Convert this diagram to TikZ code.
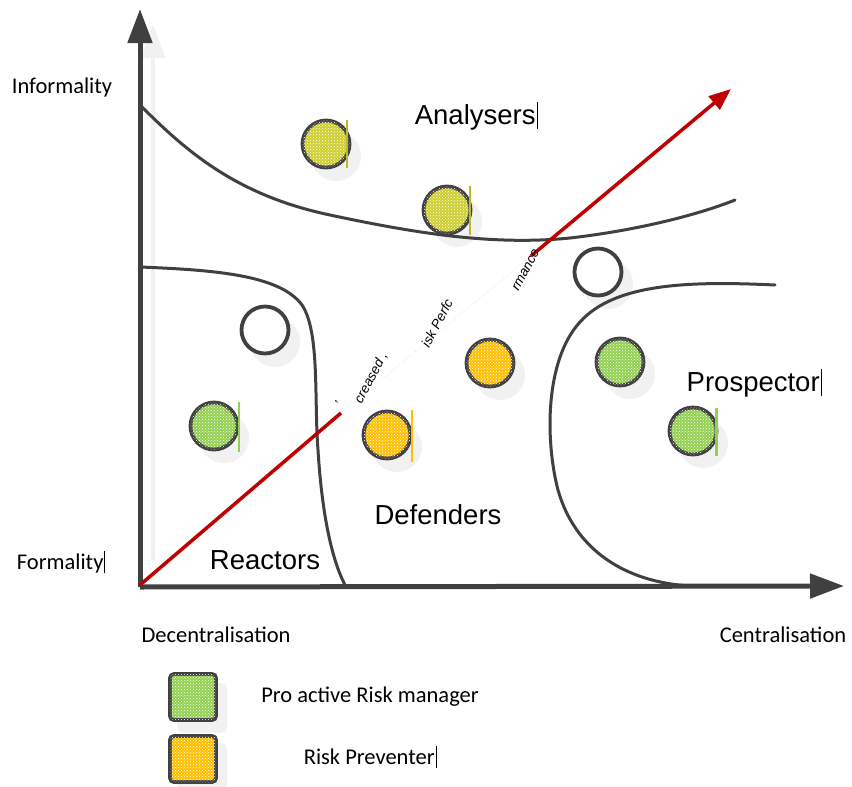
\documentclass[tikz,border=0pt]{standalone}
\usepackage{fontspec}
\setmainfont{Liberation Sans}
\newfontfamily\labelfont{Carlito}
\usetikzlibrary{arrows.meta,patterns}
\definecolor{dk}{RGB}{64,64,64}
\definecolor{redline}{RGB}{192,0,0}
\definecolor{greenf}{RGB}{146,208,80}
\definecolor{olivef}{RGB}{206,206,48}
\definecolor{orangef}{RGB}{255,190,0}
\definecolor{shade}{RGB}{241,241,241}
\begin{document}
\begin{tikzpicture}[x=1pt,y=-1pt,
  boundary/.style={draw=dk,line width=3pt,line cap=round},
  axis/.style={draw=dk,line width=5pt,-{Triangle[length=34pt,width=24pt]}},
  axisshadow/.style={draw=shade,line width=4pt,-{Triangle[length=34pt,width=24pt]}},
  disc/.style={circle,draw=dk,line width=3.8pt,minimum size=47pt,inner sep=0pt},
  discshadow/.style={circle,fill=shade,minimum size=50pt,inner sep=0pt},
  sidebar/.style={line width=1.2pt},
  swatch/.style={draw=dk,line width=3.8pt,rounded corners=4pt,minimum size=46pt,inner sep=0pt},
  tex/.style={pattern=crosshatch dots,pattern color=white},
  region/.style={font=\fontsize{27.5}{30}\selectfont,inner sep=0pt},
  axlabel/.style={font=\labelfont\fontsize{22.5}{26}\selectfont,inner sep=0pt},
  frag/.style={font=\itshape\fontsize{13.5}{15}\selectfont,inner sep=0pt,rotate=62}]
\useasboundingbox (0,0) rectangle (852,787);

% soft shadow behind the vertical axis
\coordinate (o) at (140,587);
\coordinate (os) at (153,560);
\coordinate (yt) at (140,9);
\coordinate (yts) at (153,24);
\draw[axisshadow] (os) -- (yts);

% discs: shadows first
\foreach \p in {(336,156),(457,222),(275,342),(608,284),(224,438),(630,374),(703,443),(397,447),(500,375)}
  \node[discshadow] at \p {};

% region boundaries
\draw[boundary] (140,105) .. controls (185,150) and (235,195) .. (330,215)
  .. controls (410,232) and (490,246) .. (570,238)
  .. controls (640,230) and (700,214) .. (735,200);
\draw[boundary] (140,267) .. controls (215,270) and (280,275) .. (302,305)
  .. controls (320,332) and (314,400) .. (318,450)
  .. controls (322,515) and (332,560) .. (345,585);
\draw[boundary] (775,285) .. controls (690,281) and (615,283) .. (580,322)
  .. controls (545,360) and (545,440) .. (558,490)
  .. controls (575,550) and (625,582) .. (690,586);

% axes
\coordinate (xt) at (844,586);
\draw[axis] (o) -- (yt);
\draw[axis] (o) -- (xt);

% rising trend line
\coordinate (r0) at (140,585);
\coordinate (r1) at (341,413);
\coordinate (r2) at (531,256);
\coordinate (r3) at (731,89);
\draw[redline,line width=3.5pt] (r0) -- (r1);
\draw[black!15,line width=0.6pt,dotted] (r1) -- (r2);
\draw[redline,line width=3.5pt,-{Triangle[length=22pt,width=17pt]}] (r2) -- (r3);
\node[frag] (f0) at (339,404) {’};
\node[frag] (f1) at (371,378) {creased ,};
\node[frag] (f2) at (437,323) {isk Perfc};
\node[frag] (f3) at (526,270) {rmance};

% discs
\node[disc,fill=olivef,postaction={tex}] (a1) at (326,144) {};
\node[disc,fill=olivef,postaction={tex}] (a2) at (447,210) {};
\node[disc,fill=white] (e1) at (265,330) {};
\node[disc,fill=white] (e2) at (598,272) {};
\node[disc,fill=greenf,postaction={tex}] (g1) at (214,426) {};
\node[disc,fill=greenf,postaction={tex}] (g2) at (620,362) {};
\node[disc,fill=greenf,postaction={tex}] (g3) at (693,431) {};
\node[disc,fill=orangef,postaction={tex}] (o1) at (387,435) {};
\node[disc,fill=orangef,postaction={tex}] (o2) at (490,363) {};

% thin markers beside some discs
\draw[sidebar,draw=olivef!90!black] (347,120) -- (347,168);
\draw[sidebar,draw=olivef!90!black] (470,186) -- (470,235);
\draw[sidebar,draw=greenf] (239,402) -- (239,452);
\draw[sidebar,draw=orangef] (412,410) -- (412,462);
\draw[line width=3pt,draw=greenf] (716,408) -- (716,456);

% region names
\node[region] (analysers) at (476,116) {Analysers\hspace{1pt}\rule[-5pt]{0.6pt}{27pt}};
\node[region] (prospector) at (754,383) {Prospector\hspace{1pt}\rule[-5pt]{0.6pt}{27pt}};
\node[region] (defenders) at (438,515) {Defenders};
\node[region] (reactors) at (265,560) {Reactors};

% axis labels
\node[axlabel] (informality) at (62,88) {Informality};
\node[axlabel] (formality) at (61,562) {Formality\hspace{1pt}\rule[-4pt]{0.6pt}{22pt}};
\node[axlabel] (decentral) at (216,635) {Decentralisation};
\node[axlabel] (central) at (783,635) {Centralisation};

% legend
\node[swatch,fill=shade,draw=shade] at (202,708) {};
\node[swatch,fill=shade,draw=shade] at (202,768) {};
\node[swatch,fill=greenf,postaction={tex}] (lg) at (193,697) {};
\node[swatch,fill=orangef,postaction={tex}] (lo) at (193,759) {};
\node[axlabel] (lgt) at (370,697) {Pro active Risk manager};
\node[axlabel] (lot) at (370,757) {Risk Preventer\hspace{1pt}\rule[-4pt]{0.6pt}{22pt}};
\end{tikzpicture}
\end{document}
